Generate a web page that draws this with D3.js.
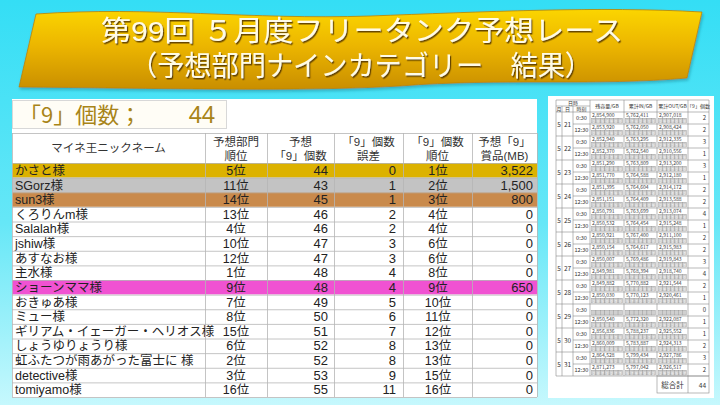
<!DOCTYPE html>
<html><head><meta charset="utf-8">
<script src="https://cdn.jsdelivr.net/npm/d3@7"></script>
<style>html,body{margin:0;padding:0;overflow:hidden;}svg{display:block;}</style>
</head><body>
<script>
// ---------- data ----------
const titleLines = ["第99回 ５月度フリータンク予想レース", "（予想部門ナインカテゴリー　結果）"];
const totalNineLabel = "「9」個数；";
const totalNine = 44;
const headers = [["マイネ王ニックネーム"], ["予想部門", "順位"], ["予想", "「9」個数"], ["「9」個数", "誤差"], ["「9」個数", "順位"], ["予想「9」", "賞品(MB)"]];
const names = ["かさと様","SGorz様","sun3様","くろりんm様","Salalah様","jshiw様","あすなお様","主水様","ショーンママ様","おきゅあ様","ミュー様","ギリアム・イェーガー・ヘリオス様","しょうゆりょうり様","虹ふたつが雨あがった富士に 様","detective様","tomiyamo様"];
const predRank = [5,11,14,13,4,10,12,1,9,7,8,15,6,2,3,16];
const predCount = [44,43,45,46,46,47,47,48,48,49,50,51,52,52,53,55];
const countError = [0,1,1,2,2,3,3,4,4,5,6,7,8,8,9,11];
const countRank = [1,2,3,4,4,6,6,8,9,10,11,12,13,13,15,16];
const prizeMB = [3522,1500,800,0,0,0,0,0,650,0,0,0,0,0,0,0];

const sideHeaders = ["残容量/GB","累計IN/GB","累計OUT/GB","「9」個数"];
const days = [21,22,23,24,25,26,27,28,29,30,31];
const times = ["0:30","12:30"];
const remaining = [2854900,2853920,2852940,2852370,2851290,2851770,2851395,2851151,2850791,2850532,2850921,2850154,2850007,2849981,2849882,2850030,null,2850540,2856836,2860009,2864528,2871273];
const cumIn =     [5762411,5762050,5763295,5762540,5763809,5764588,5764604,5764409,5763699,5764454,5767400,5764617,5769486,5768394,5770882,5770123,null,5772320,5788237,5783887,5799434,5797042];
const cumOut =    [2907018,2908424,2912335,2910556,2913200,2912180,2914172,2913588,2913074,2915248,2911100,2915983,2919843,2918740,2921544,2920461,null,2922087,2925552,2924313,2927786,2926517];
const nineCount = [2,2,3,1,3,1,2,2,4,1,2,2,3,4,2,1,0,1,1,2,3,2];
const grandTotalLabel = "総合計";

// ---------- setup ----------
const W = 720, H = 405;
const JP = "'Noto Sans CJK JP','Noto Sans',sans-serif";
const TB = "'Liberation Sans','Noto Sans CJK JP',sans-serif";
const svg = d3.select("body").append("svg").attr("width", W).attr("height", H);
const defs = svg.append("defs");

const bg = defs.append("linearGradient").attr("id","bg").attr("x1",0).attr("y1",0).attr("x2",0).attr("y2",1);
bg.append("stop").attr("offset","0%").attr("stop-color","#34def5");
bg.append("stop").attr("offset","55%").attr("stop-color","#66e7f7");
bg.append("stop").attr("offset","100%").attr("stop-color","#c6f8fd");
svg.append("rect").attr("width",W).attr("height",H).attr("fill","url(#bg)");

const gold = defs.append("linearGradient").attr("id","gold").attr("x1",0).attr("y1",0).attr("x2",0).attr("y2",1);
gold.append("stop").attr("offset","0%").attr("stop-color","#fbd500");
gold.append("stop").attr("offset","45%").attr("stop-color","#ecb600");
gold.append("stop").attr("offset","100%").attr("stop-color","#c98e00");
const sh = defs.append("filter").attr("id","sh").attr("x","-10%").attr("y","-20%").attr("width","120%").attr("height","160%");
sh.append("feDropShadow").attr("dx",1).attr("dy",2).attr("stdDeviation",1.5).attr("flood-color","#1a6f7a").attr("flood-opacity",0.45);
const tsh = defs.append("filter").attr("id","tsh").attr("x","-5%").attr("y","-20%").attr("width","110%").attr("height","160%");
tsh.append("feDropShadow").attr("dx",1.2).attr("dy",1.5).attr("stdDeviation",0.6).attr("flood-color","#5a3a00").attr("flood-opacity",0.9);

// ---------- banner ----------
svg.append("path")
  .attr("d","M36,14 C150,6 250,20 370,16 C480,12 600,6 702,12 L687,78 C600,86 500,78 400,86 C300,92 150,88 19,87 Z")
  .attr("fill","url(#gold)").attr("stroke","#b98300").attr("stroke-width",0.8).attr("filter","url(#sh)");
const tl = svg.append("g").attr("filter","url(#tsh)");
tl.append("text").attr("x",362).attr("y",41).attr("text-anchor","middle")
  .attr("font-family",TB).attr("font-size",28).attr("fill","#fffbe6")
  .attr("textLength",522).attr("lengthAdjust","spacingAndGlyphs").text(titleLines[0]);
tl.append("text").attr("x",361).attr("y",76).attr("text-anchor","middle")
  .attr("font-family",TB).attr("font-size",28).attr("fill","#fffbe6")
  .attr("textLength",462).attr("lengthAdjust","spacingAndGlyphs").text(titleLines[1]);

// ---------- main table ----------
const panel = svg.append("g");
panel.append("rect").attr("x",12).attr("y",99).attr("width",525).attr("height",299).attr("fill","#ffffff");
panel.append("rect").attr("x",12.5).attr("y",100.5).attr("width",214).attr("height",28).attr("fill","#fffdf6").attr("stroke","#d8d8d8");
panel.append("text").attr("x",19).attr("y",123).attr("font-family",JP).attr("font-size",22).attr("fill","#a88418").text(totalNineLabel);
panel.append("text").attr("x",215).attr("y",123).attr("text-anchor","end").attr("font-family","'Noto Sans',sans-serif").attr("font-size",23).attr("fill","#a88418").text(totalNine);

const colEdges = [12,205,267,334,403,472,537];
const headTop = 133, headBot = 163;
const y = d3.scaleBand().domain(d3.range(names.length)).range([headBot, 397]).paddingInner(0);
const rowFill = i => i===0 ? "#dcb200" : i===1 ? "#c3c3c3" : i===2 ? "#c98a4c" : i===8 ? "#f052d2" : "#ffffff";

const grid = panel.append("g");
grid.append("rect").attr("x",12).attr("y",headTop).attr("width",525).attr("height",headBot-headTop).attr("fill","#ffffff");
headers.forEach((h,i)=>{
  const cx = (colEdges[i]+colEdges[i+1])/2;
  const t = grid.append("text").attr("x",cx).attr("text-anchor","middle").attr("font-family",TB).attr("font-size",11.5).attr("fill","#333");
  if (h.length===1) t.attr("y",152).text(h[0]);
  else { t.append("tspan").attr("x",cx).attr("y",146).text(h[0]); t.append("tspan").attr("x",cx).attr("y",160).text(h[1]); }
});
const rows = grid.selectAll("g.row").data(names).join("g").attr("class","row");
rows.append("rect").attr("x",12).attr("y",(d,i)=>y(i)).attr("width",525).attr("height",y.bandwidth()).attr("fill",(d,i)=>rowFill(i));
const lineC = "#b5b5b5";
[headTop, ...d3.range(names.length).map(i=>y(i)), 397].forEach(v=>{
  grid.append("line").attr("x1",12).attr("x2",537).attr("y1",v+0.5).attr("y2",v+0.5).attr("stroke",lineC).attr("stroke-width",0.8);
});
colEdges.forEach(v=>{
  grid.append("line").attr("x1",v+0.5).attr("x2",v+0.5).attr("y1",headTop).attr("y2",397).attr("stroke",lineC).attr("stroke-width",0.8);
});
const cellText = (x, anchor, fn, size) => rows.append("text").attr("x",x).attr("y",(d,i)=>y(i)+y.bandwidth()/2+4.6)
  .attr("text-anchor",anchor).attr("font-family",TB).attr("font-size",size).attr("fill","#222").text(fn);
cellText(15,"start",d=>d,12.5);
cellText(236,"middle",(d,i)=>predRank[i]+"位",12.5);
cellText(328,"end",(d,i)=>predCount[i],13);
cellText(396,"end",(d,i)=>countError[i],13);
cellText(438,"middle",(d,i)=>countRank[i]+"位",12.5);
cellText(533,"end",(d,i)=>d3.format(",")(prizeMB[i]),13);

// ---------- side table ----------
const side = svg.append("g");
side.append("rect").attr("x",548).attr("y",96).attr("width",166).attr("height",302).attr("fill","#ffffff");
const sCols = [556,562,573,590,624,657,688,709];
const sTop = 100, sMid = 106, sHead = 112;
const dayBand = d3.scaleBand().domain(days).range([sHead, 376]);
const rowBand = d3.scaleBand().domain(d3.range(days.length*2)).range([sHead, 376]);
const sc = "#8a8a8a";
const sl = (x1,y1,x2,y2)=>side.append("line").attr("x1",x1).attr("y1",y1).attr("x2",x2).attr("y2",y2).attr("stroke",sc).attr("stroke-width",0.6);
sl(556,sTop,709,sTop); sl(556,sMid,590,sMid); sl(556,sHead,709,sHead);
const st = (x,yy,txt,size,anchor,fill)=>side.append("text").attr("x",x).attr("y",yy).attr("text-anchor",anchor||"middle").attr("font-family",JP).attr("font-size",size).attr("fill",fill||"#333").text(txt);
st(573,105,"日時",5);
st(559,111,"月",5); st(567.5,111,"日",5); st(581.5,111,"時刻",5);
sideHeaders.forEach((h,i)=>st((sCols[i+3]+sCols[i+4])/2,108,h,5));
sCols.forEach((v,i)=>sl(v,(i===1||i===2)?sMid:sTop, v, 376));
days.forEach(d=>{
  const y0 = dayBand(d), h = dayBand.bandwidth();
  sl(556,y0+h,709,y0+h);
  sl(573,y0+h/2,709,y0+h/2);
  st(559,y0+h/2+2.5,"5",6.5); st(567.5,y0+h/2+2.5,d,6.5);
});
d3.range(days.length*2).forEach(r=>{
  const y0 = rowBand(r), h = rowBand.bandwidth();
  st(581.5,y0+h/2+2.2,times[r%2],5.6);
  [remaining,cumIn,cumOut].forEach((arr,ci)=>{
    const x0 = sCols[ci+3], x1 = sCols[ci+4], w = x1-x0;
    const v = arr[r];
    if (v!==null) st(x0+2,y0+4.9,d3.format(",")(v),5.1,"start","#444");
    const digits = v===null ? Array(7).fill("") : String(v).split("");
    const bw = (w-3)/digits.length;
    digits.forEach((dg,k)=>{
      side.append("rect").attr("x",x0+1.5+k*bw).attr("y",y0+6.2).attr("width",bw).attr("height",4.8)
        .attr("fill","#cfcfcf").attr("stroke","#8c8c8c").attr("stroke-width",0.35);
    });
    if (v!==null) {
      side.append("text").attr("y",y0+10.5).attr("text-anchor","middle").attr("font-family",JP).attr("font-size",3.8).attr("fill","#fafafa")
        .attr("x",digits.map((dg,k)=>(x0+1.5+k*bw+bw/2).toFixed(2)).join(" ")).text(digits.join(""));
    }
  });
  st(706,y0+h/2+2.3,nineCount[r],6,"end","#333");
});
side.append("rect").attr("x",657).attr("y",376).attr("width",52).attr("height",17).attr("fill","none").attr("stroke",sc).attr("stroke-width",0.6);
sl(688,376,688,393);
st(672.5,388,grandTotalLabel,7.5);
st(706,388,totalNine,6.5,"end");
</script>
</body></html>
